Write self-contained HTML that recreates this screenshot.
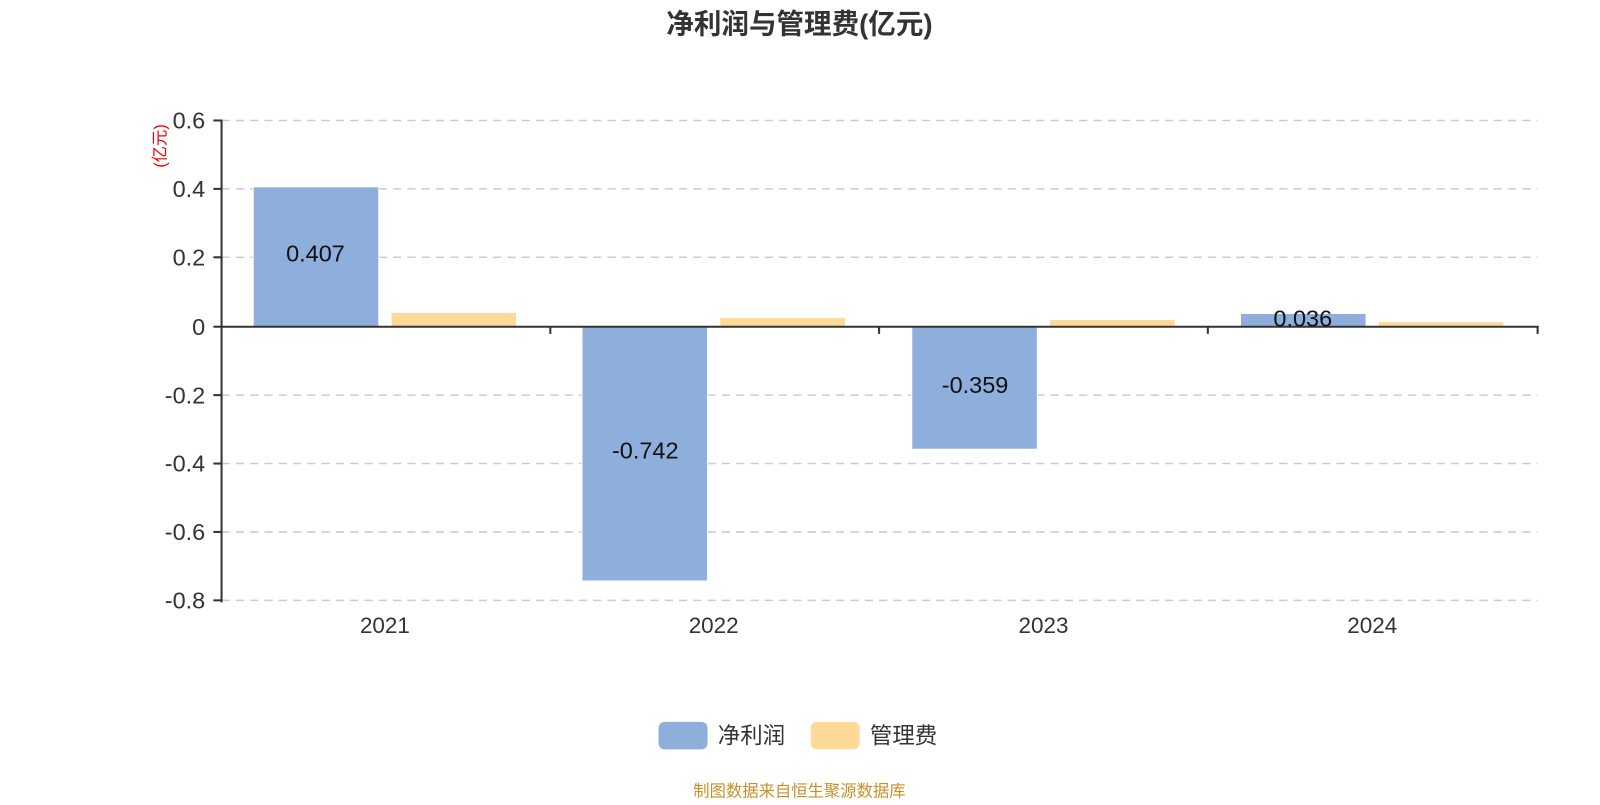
<!DOCTYPE html>
<html><head><meta charset="utf-8"><style>
body{margin:0;background:#fff;}
text{font-family:"Liberation Sans","Noto Sans CJK SC",sans-serif;}
</style></head><body>
<svg width="1600" height="800" xmlns="http://www.w3.org/2000/svg">
<g transform="scale(1.021)">
<text x="783" y="33" text-anchor="middle" font-size="27" font-weight="bold" fill="#333">净利润与管理费(亿元)</text>
<g stroke="#ccc" stroke-width="1.5" stroke-dasharray="8,6">
<line x1="217" y1="118" x2="1506" y2="118"/>
<line x1="217" y1="185" x2="1506" y2="185"/>
<line x1="217" y1="252" x2="1506" y2="252"/>
<line x1="217" y1="387" x2="1506" y2="387"/>
<line x1="217" y1="454" x2="1506" y2="454"/>
<line x1="217" y1="521" x2="1506" y2="521"/>
<line x1="217" y1="588" x2="1506" y2="588"/>
</g>
<g stroke="#fff" stroke-width="1">
<rect x="248" y="183" width="123" height="137" fill="#8eaedb"/>
<rect x="383" y="306" width="123" height="14" fill="#fed998"/>
<rect x="570" y="320" width="123" height="249" fill="#8eaedb"/>
<rect x="705" y="311" width="123" height="9" fill="#fed998"/>
<rect x="893" y="320" width="123" height="120" fill="#8eaedb"/>
<rect x="1028" y="313" width="123" height="7" fill="#fed998"/>
<rect x="1215" y="307" width="123" height="13" fill="#8eaedb"/>
<rect x="1350" y="315" width="123" height="5" fill="#fed998"/>
</g>
<g stroke="#333" stroke-width="2">
<line x1="217" y1="117" x2="217" y2="590"/>
<line x1="216" y1="320" x2="1507" y2="320"/>
<line x1="209" y1="118" x2="217" y2="118"/><line x1="209" y1="185" x2="217" y2="185"/>
<line x1="209" y1="252" x2="217" y2="252"/><line x1="209" y1="320" x2="217" y2="320"/>
<line x1="209" y1="387" x2="217" y2="387"/><line x1="209" y1="454" x2="217" y2="454"/>
<line x1="209" y1="521" x2="217" y2="521"/><line x1="209" y1="588" x2="217" y2="588"/>
<line x1="539" y1="320" x2="539" y2="327"/><line x1="861" y1="320" x2="861" y2="327"/>
<line x1="1183" y1="320" x2="1183" y2="327"/><line x1="1506" y1="320" x2="1506" y2="327"/>
</g>
<g font-size="23" fill="#333" text-anchor="end">
<text x="201" y="126">0.6</text><text x="201" y="193">0.4</text><text x="201" y="260">0.2</text>
<text x="201" y="328">0</text><text x="201" y="395">-0.2</text><text x="201" y="462">-0.4</text>
<text x="201" y="529">-0.6</text><text x="201" y="596">-0.8</text>
</g>
<text transform="translate(162,143) rotate(-90)" text-anchor="middle" font-size="16" fill="#e00">(亿元)</text>
<g font-size="22" fill="#333" text-anchor="middle">
<text x="377" y="620">2021</text><text x="699" y="620">2022</text>
<text x="1022" y="620">2023</text><text x="1344" y="620">2024</text>
</g>
<g font-size="23" fill="#111" text-anchor="middle">
<text x="309" y="256">0.407</text><text x="632" y="449">-0.742</text>
<text x="955" y="385">-0.359</text><text x="1276" y="320">0.036</text>
</g>
<rect x="645" y="707" width="48" height="27" rx="6" fill="#8eaedb"/>
<text x="703" y="728" font-size="22" fill="#333">净利润</text>
<rect x="794" y="707" width="48" height="27" rx="6" fill="#fed998"/>
<text x="852" y="728" font-size="22" fill="#333">管理费</text>
<text x="783" y="780" text-anchor="middle" font-size="16" fill="#c8902a">制图数据来自恒生聚源数据库</text>
</g>
</svg>
</body></html>
